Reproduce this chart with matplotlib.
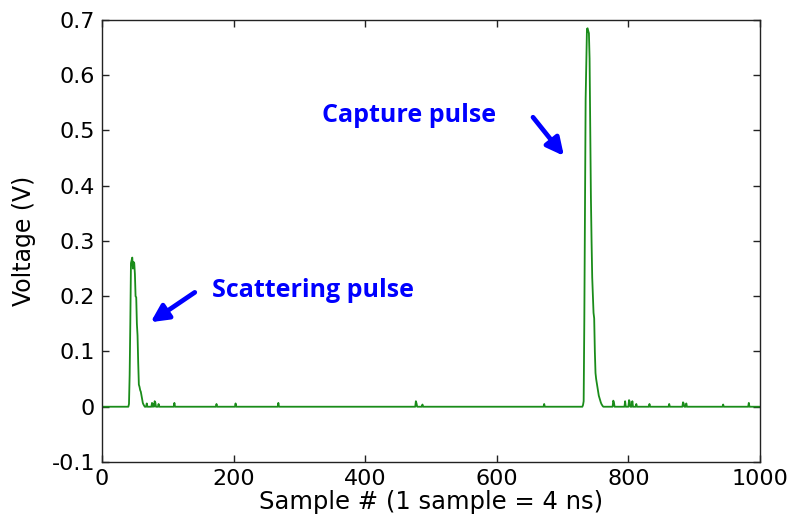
import numpy as np
import matplotlib.pyplot as plt

# Oscilloscope trace, 1000 samples, baseline at 0 V except the values below
n_samples = 1000

# scattering pulse (sample index, voltage)
scatter_idx = [41, 42, 43, 44, 45, 46, 47, 48, 49, 50, 51, 52, 53, 54, 55,
               56, 57, 58, 59, 60, 61, 62, 63, 64]
scatter_val = [0.005, 0.057, 0.15, 0.26, 0.265, 0.27, 0.25, 0.262, 0.26, 0.24,
               0.2, 0.198, 0.15, 0.129, 0.08, 0.04, 0.036, 0.03, 0.027, 0.02,
               0.012, 0.007, 0.004, 0.002]

# capture pulse
capture_idx = [731, 732, 733, 734, 735, 736, 737, 738, 739, 740, 741, 742, 743,
               744, 745, 746, 747, 748, 749, 750, 751, 752, 753, 754, 755, 756,
               757, 758, 759, 760, 761]
capture_val = [0.003, 0.01, 0.156, 0.35, 0.557, 0.62, 0.684, 0.685, 0.68, 0.676,
               0.63, 0.5, 0.38, 0.3, 0.234, 0.2, 0.17, 0.16, 0.1, 0.061, 0.05,
               0.042, 0.035, 0.028, 0.02, 0.016, 0.012, 0.008, 0.005, 0.003, 0.001]

# small noise spikes on the baseline
spike_idx = [68, 76, 78, 80, 81, 86, 110, 174, 203, 268, 477, 478, 487, 672,
             777, 778, 795, 801, 802, 806, 812, 832, 862, 883, 884, 888, 944, 983]
spike_val = [0.006, 0.007, 0.005, 0.01, 0.008, 0.005, 0.007, 0.005, 0.006, 0.007,
             0.01, 0.006, 0.004, 0.005, 0.011, 0.008, 0.01, 0.012, 0.009, 0.01,
             0.005, 0.005, 0.005, 0.008, 0.006, 0.006, 0.004, 0.007]

x_ticks = [0, 200, 400, 600, 800, 1000]
y_ticks = [-0.1, 0, 0.1, 0.2, 0.3, 0.4, 0.5, 0.6, 0.7]
y_ticklabels = ["-0.1", "0", "0.1", "0.2", "0.3", "0.4", "0.5", "0.6", "0.7"]

sample = np.arange(n_samples)
voltage = np.zeros(n_samples)
voltage[spike_idx] = spike_val
voltage[scatter_idx] = scatter_val
voltage[capture_idx] = capture_val

plt.rcParams['font.family'] = 'DejaVu Sans'

fig = plt.figure(figsize=(7.92, 5.29), dpi=100)
fig.subplots_adjust(left=0.1288, right=0.9596, top=0.9622, bottom=0.1267)
ax = fig.add_subplot(111)

ax.plot(sample, voltage, color='#1a8c1a', lw=1.3)

ax.set_xlim(0, 1000)
ax.set_ylim(-0.1, 0.7)
ax.set_xticks(x_ticks)
ax.set_yticks(y_ticks)
ax.set_yticklabels(y_ticklabels)
ax.tick_params(direction='in', top=True, right=True, length=5, width=1,
               labelsize=16, pad=5, colors='#222222', labelcolor='black')
for s in ax.spines.values():
    s.set_linewidth(1.0)
    s.set_color('#222222')

ax.set_xlabel("Sample # (1 sample = 4 ns)", fontsize=17.5, labelpad=1)
ax.set_ylabel("Voltage (V)", fontsize=17, labelpad=11)

# annotations
bold = dict(color='blue', fontsize=18, fontweight='bold', family='Open Sans',
            ha='center', va='center')
ax.text(467, 0.528, "Capture pulse", **bold)
ax.text(321, 0.211, "Scattering pulse", **bold)

arrow = dict(arrowstyle='-|>', color='blue', lw=3.4, mutation_scale=26,
             shrinkA=0, shrinkB=0)
ax.annotate('', xy=(702, 0.454), xytext=(655, 0.524), arrowprops=arrow)
ax.annotate('', xy=(74, 0.153), xytext=(141, 0.207), arrowprops=arrow)

fig.savefig("out.png", dpi=100)
